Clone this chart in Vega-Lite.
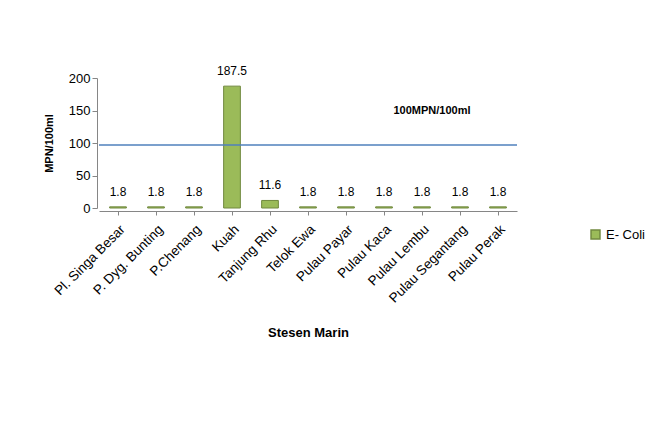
{
  "$schema": "https://vega.github.io/schema/vega-lite/v6.json",
  "autosize": "none",
  "width": 418,
  "height": 130,
  "padding": {"left": 99, "top": 78, "right": 144, "bottom": 230},
  "background": "#ffffff",
  "config": {
    "view": {"stroke": null},
    "font": "Liberation Sans",
    "axis": {"domainColor": "#868686", "tickColor": "#868686", "labelColor": "#000000", "titleColor": "#000000", "grid": false},
    "axisY": {"titleFontSize": 11, "titleFontWeight": "bold", "titlePadding": 14, "values": [0, 50, 100, 150, 200], "labelFontSize": 13, "tickSize": 5, "offset": 2},
    "axisX": {"titleFontSize": 13, "titleFontWeight": "bold", "titlePadding": 22, "labelAngle": -45, "labelFontSize": 13.5, "labelPadding": 7, "tickSize": 4, "offset": 3, "labelOverlap": false}
  },
  "datasets": {
    "ecoli": [
      {"station": "Pl. Singa Besar", "value": 1.8, "series": "E- Coli"},
      {"station": "P. Dyg. Bunting", "value": 1.8, "series": "E- Coli"},
      {"station": "P.Chenang", "value": 1.8, "series": "E- Coli"},
      {"station": "Kuah", "value": 187.5, "series": "E- Coli"},
      {"station": "Tanjung Rhu", "value": 11.6, "series": "E- Coli"},
      {"station": "Telok Ewa", "value": 1.8, "series": "E- Coli"},
      {"station": "Pulau Payar", "value": 1.8, "series": "E- Coli"},
      {"station": "Pulau Kaca", "value": 1.8, "series": "E- Coli"},
      {"station": "Pulau Lembu", "value": 1.8, "series": "E- Coli"},
      {"station": "Pulau Segantang", "value": 1.8, "series": "E- Coli"},
      {"station": "Pulau Perak", "value": 1.8, "series": "E- Coli"}
    ],
    "limit": [
      {"station": "Pulau Lembu", "limit": 97, "labelY": 150, "label": "100MPN/100ml"}
    ]
  },
  "encoding": {
    "x": {
      "field": "station", "type": "nominal", "title": "Stesen Marin",
      "scale": {
        "domain": ["Pl. Singa Besar", "P. Dyg. Bunting", "P.Chenang", "Kuah", "Tanjung Rhu", "Telok Ewa", "Pulau Payar", "Pulau Kaca", "Pulau Lembu", "Pulau Segantang", "Pulau Perak"],
        "paddingInner": 0.56, "paddingOuter": 0.28
      }
    }
  },
  "layer": [
    {
      "data": {"name": "ecoli"},
      "mark": {"type": "bar", "stroke": "#71893f", "strokeWidth": 1},
      "encoding": {
        "y": {"field": "value", "type": "quantitative", "title": "MPN/100ml", "scale": {"domain": [0, 200], "nice": false}},
        "color": {"field": "series", "type": "nominal", "scale": {"range": ["#9bbb59"]},
                  "legend": {"title": null, "orient": "none", "legendX": 490, "legendY": 150, "symbolType": "square", "symbolSize": 80, "labelFontSize": 13, "symbolStrokeColor": "#71893f"}}
      }
    },
    {
      "data": {"name": "ecoli"},
      "mark": {"type": "text", "fontSize": 12, "dy": -15, "baseline": "middle"},
      "encoding": {
        "y": {"field": "value", "type": "quantitative", "title": "MPN/100ml"},
        "text": {"field": "value", "type": "quantitative", "format": ".1f"}
      }
    },
    {
      "data": {"name": "limit"},
      "mark": {"type": "rule", "color": "#4f81bd", "strokeWidth": 1.5},
      "encoding": {"x": null, "y": {"field": "limit", "type": "quantitative", "title": "MPN/100ml"}}
    },
    {
      "data": {"name": "limit"},
      "mark": {"type": "text", "fontSize": 11, "fontWeight": "bold", "dx": 10, "baseline": "middle"},
      "encoding": {
        "y": {"field": "labelY", "type": "quantitative", "title": "MPN/100ml"},
        "text": {"field": "label"}
      }
    }
  ]
}
